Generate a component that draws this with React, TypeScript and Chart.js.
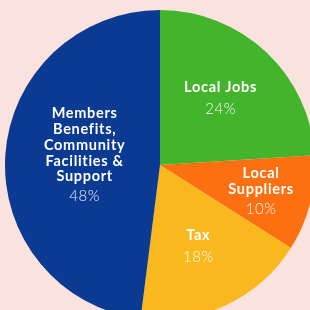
import { useEffect, useRef } from "react";
import { Chart, registerables } from "chart.js";

Chart.register(...registerables);

const categories = [
  ["Local Jobs"],
  ["Local", "Suppliers"],
  ["Tax"],
  ["Members", "Benefits,", "Community", "Facilities &", "Support"],
];
const shares = [24, 10, 18, 48];
const percentLabels = ["24%", "10%", "18%", "48%"];
const sliceColors = ["#43b52d", "#fd7012", "#f9b81e", "#0b3a93"];
const labelRadius = [0.58, 0.68, 0.58, 0.5];
const labelNudge = [
  [-1, -1],
  [-1, 0],
  [0, 0],
  [2, -5],
];

const labelPlugin = {
  id: "sliceLabels",
  afterDatasetsDraw(chart: any) {
    const ctx = chart.ctx;
    const meta = chart.getDatasetMeta(0);
    meta.data.forEach((arc: any, i: number) => {
      const p = arc.getProps(["x", "y", "startAngle", "endAngle", "outerRadius"], true);
      const mid = (p.startAngle + p.endAngle) / 2;
      const r = p.outerRadius * labelRadius[i];
      const cx = p.x + Math.cos(mid) * r + labelNudge[i][0];
      const cy = p.y + Math.sin(mid) * r + labelNudge[i][1];
      const lines = categories[i];
      const lineH = 15.7;
      const gap = lines.length === 1 ? 22 : 20;
      const total = (lines.length - 1) * lineH + gap;
      let y = cy - total / 2;
      ctx.save();
      ctx.fillStyle = "#ffffff";
      ctx.textAlign = "center";
      ctx.textBaseline = "middle";
      ctx.font = "bold 14.5px Lato";
      (ctx as any).letterSpacing = "0.7px";
      lines.forEach((ln: string, k: number) => {
        ctx.fillText(ln, cx, y + k * lineH);
      });
      ctx.font = "300 15px Lato";
      (ctx as any).letterSpacing = "0.5px";
      ctx.fillStyle = "rgba(255,255,255,0.95)";
      ctx.fillText(percentLabels[i], cx, y + (lines.length - 1) * lineH + gap);
      ctx.restore();
    });
  },
};

export default function App() {
  const ref = useRef<HTMLCanvasElement>(null);
  useEffect(() => {
    if (!ref.current) return;
    const chart = new Chart(ref.current, {
      type: "pie",
      data: {
        labels: categories.map((c) => c.join(" ")),
        datasets: [
          {
            data: shares,
            backgroundColor: sliceColors,
            borderWidth: 0,
          },
        ],
      },
      options: {
        animation: false,
        responsive: false,
        maintainAspectRatio: false,
        layout: { padding: 0 },
        plugins: {
          legend: { display: false },
          tooltip: { enabled: false },
        },
      },
      plugins: [labelPlugin],
    });
    return () => chart.destroy();
  }, []);
  return (
    <div
      style={{
        position: "fixed",
        left: 0,
        top: 0,
        width: 310,
        height: 310,
        overflow: "hidden",
        background: "#fae3de",
      }}
    >
      <canvas
        ref={ref}
        width={310}
        height={310}
        style={{ position: "absolute", left: 5, top: 10, width: 310, height: 310 }}
      />
    </div>
  );
}
